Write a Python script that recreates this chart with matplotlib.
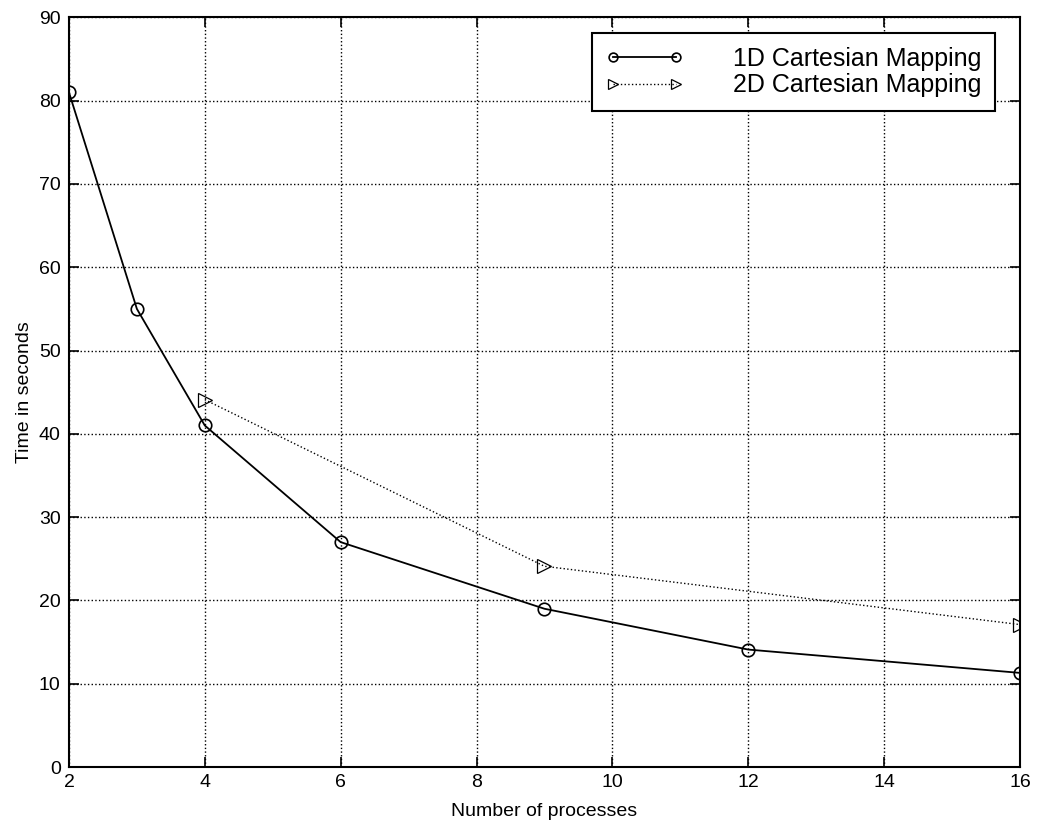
import matplotlib
matplotlib.use("Agg")
import matplotlib.pyplot as plt

plt.rcParams["font.family"] = ["Liberation Sans", "DejaVu Sans"]

procs_1d = [2, 3, 4, 6, 9, 12, 16]
time_1d = [81, 55, 41, 27, 19, 14.1, 11.3]
procs_2d = [4, 9, 16]
time_2d = [44.1, 24.1, 17.1]

xticks = [2, 4, 6, 8, 10, 12, 14, 16]
yticks = [0, 10, 20, 30, 40, 50, 60, 70, 80, 90]

fig = plt.figure(figsize=(10.37, 8.22), dpi=100)
ax = fig.add_axes([0.0665, 0.0669, 0.917, 0.912])

ax.plot(procs_1d, time_1d, "k-", marker="o", markersize=9, markerfacecolor="none",
        markeredgewidth=1.2, linewidth=1.3, label="1D Cartesian Mapping")
ax.plot(procs_2d, time_2d, color="k", linestyle=":", marker=">", markersize=10,
        markerfacecolor="none", markeredgewidth=0.9, linewidth=1.0,
        label="2D Cartesian Mapping")

ax.set_xlim(2, 16)
ax.set_ylim(0, 90)
ax.set_xticks(xticks)
ax.set_yticks(yticks)
ax.tick_params(direction="in", top=True, right=True, labelsize=14, length=7, width=1.2)
ax.tick_params(axis="y", pad=6)
ax.tick_params(axis="x", pad=5)
ax.grid(True, color="k", linestyle=":", linewidth=1.0)
for s in ax.spines.values():
    s.set_linewidth(1.5)

ax.set_xlabel("Number of processes", fontsize=14, labelpad=9)
ax.set_ylabel("Time in seconds", fontsize=14, labelpad=4)

leg = ax.legend(loc="upper right", bbox_to_anchor=(0.974, 0.979), fontsize=18,
                numpoints=2, handlelength=3.1, fancybox=False, framealpha=1,
                markerscale=0.7, borderpad=0.55, labelspacing=0.1,
                handletextpad=2.0, borderaxespad=0)
leg.get_frame().set_edgecolor("k")
leg.get_frame().set_linewidth(1.5)

fig.savefig("out.png", dpi=100)
